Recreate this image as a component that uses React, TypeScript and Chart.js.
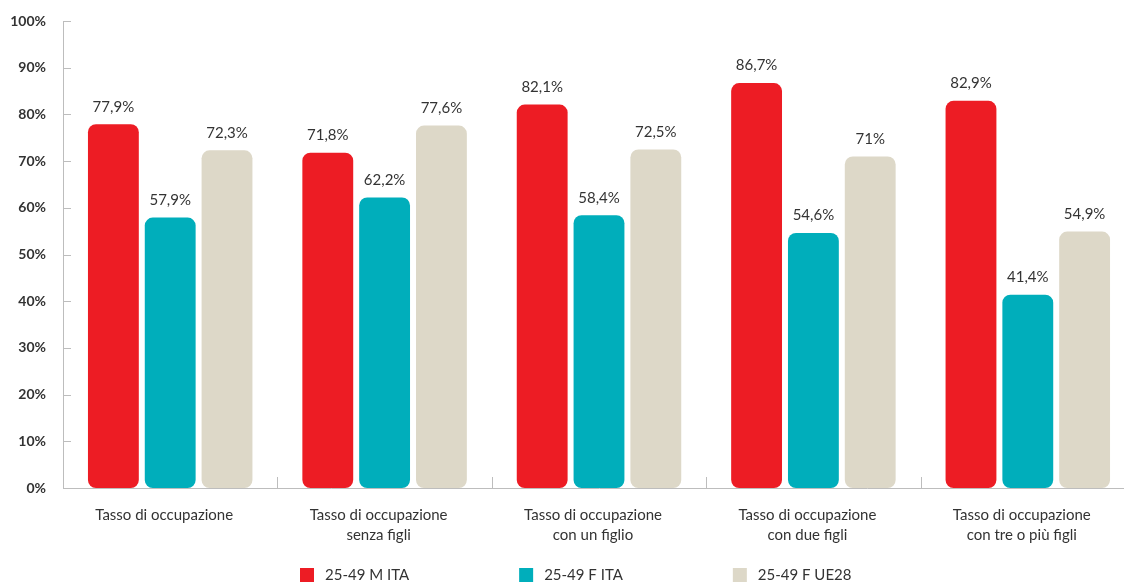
import React, { useEffect, useRef } from "react";
import { Chart, registerables } from "chart.js";

Chart.register(...registerables);

const categories: string[][] = [
  ["Tasso di occupazione"],
  ["Tasso di occupazione", "senza figli"],
  ["Tasso di occupazione", "con un figlio"],
  ["Tasso di occupazione", "con due figli"],
  ["Tasso di occupazione", "con tre o più figli"],
];
const seriesNames = ["25-49 M ITA", "25-49 F ITA", "25-49 F UE28"];
const mIta = [77.9, 71.8, 82.1, 86.7, 82.9];
const fIta = [57.9, 62.2, 58.4, 54.6, 41.4];
const fUe28 = [72.3, 77.6, 72.5, 71, 54.9];
const colors = ["#ED1C24", "#00AEBB", "#DDD8C8"];

const FONT = "Lato, 'Open Sans', sans-serif";
const TEXT = "#333333";
const AXIS = "#BDBDBD";

const fmt = (v: number) => String(v).replace(".", ",") + "%";

const decorPlugin = {
  id: "decor",
  afterDatasetsDraw(chart: any) {
    const ctx = chart.ctx;
    const area = chart.chartArea;
    const x = chart.scales.x;
    const y = chart.scales.y;
    ctx.save();
    ctx.strokeStyle = AXIS;
    ctx.lineWidth = 1;
    y.ticks.forEach((t: any) => {
      const py = Math.round(y.getPixelForValue(t.value)) + 0.5;
      ctx.beginPath();
      ctx.moveTo(area.left, py);
      ctx.lineTo(area.left + 8, py);
      ctx.stroke();
    });
    for (let i = 0; i < categories.length - 1; i++) {
      const px = Math.round((x.getPixelForValue(i) + x.getPixelForValue(i + 1)) / 2) + 0.5;
      ctx.beginPath();
      ctx.moveTo(px, area.bottom);
      ctx.lineTo(px, area.bottom - 11);
      ctx.stroke();
    }
    ctx.fillStyle = TEXT;
    ctx.font = `15px ${FONT}`;
    ctx.textAlign = "center";
    ctx.textBaseline = "bottom";
    chart.data.datasets.forEach((ds: any, di: number) => {
      const meta = chart.getDatasetMeta(di);
      meta.data.forEach((bar: any, i: number) => {
        ctx.fillText(fmt(ds.data[i]), bar.x, bar.y - 10);
      });
    });
    ctx.font = `15px ${FONT}`;
    ctx.textAlign = "left";
    ctx.textBaseline = "middle";
    let lx = area.left + 237;
    const ly = 575;
    chart.data.datasets.forEach((ds: any) => {
      ctx.fillStyle = ds.backgroundColor;
      ctx.fillRect(lx, ly - 7, 14, 14);
      ctx.fillStyle = TEXT;
      ctx.fillText(ds.label, lx + 25, ly);
      lx += 25 + ctx.measureText(ds.label).width + 110;
    });
    ctx.restore();
  },
};

export default function App() {
  const ref = useRef<HTMLCanvasElement>(null);
  useEffect(() => {
    document.body.style.margin = "0";
    const chart = new Chart(ref.current!, {
      type: "bar",
      data: {
        labels: categories,
        datasets: [mIta, fIta, fUe28].map((d, i) => ({
          label: seriesNames[i],
          data: d,
          backgroundColor: colors[i],
          borderRadius: 8,
          borderSkipped: false,
          barPercentage: 0.895,
          categoryPercentage: 0.795,
        })),
      },
      options: {
        animation: false,
        responsive: false,
        maintainAspectRatio: false,
        layout: { padding: { top: 21, right: 5, bottom: 0, left: 0 } },
        plugins: { legend: { display: false }, tooltip: { enabled: false } },
        scales: {
          x: {
            grid: { display: false, drawTicks: false },
            border: { color: AXIS, width: 1 },
            ticks: {
              color: TEXT,
              font: { family: FONT, size: 15, lineHeight: 1.35 },
              padding: 17,
              labelOffset: -6,
              maxRotation: 0,
              autoSkip: false,
            },
            afterFit: (s: any) => {
              s.height = 95;
            },
          },
          y: {
            min: 0,
            max: 100,
            grid: { display: false, drawTicks: false },
            border: { color: AXIS, width: 1 },
            ticks: {
              stepSize: 10,
              color: TEXT,
              font: { family: FONT, size: 14, weight: "bold" },
              padding: 17,
              callback: (v: any) => v + "%",
            },
            afterFit: (s: any) => {
              s.width = 63;
              s.paddingTop = 0;
              s.paddingBottom = 0;
            },
          },
        },
      },
      plugins: [decorPlugin],
    });
    return () => chart.destroy();
  }, []);
  return (
    <div style={{ position: "fixed", left: 0, top: 0, width: 1124, height: 583, overflow: "hidden", background: "#fff" }}>
      <canvas ref={ref} width={1140} height={583} style={{ display: "block", width: 1140, height: 583 }} />
    </div>
  );
}
